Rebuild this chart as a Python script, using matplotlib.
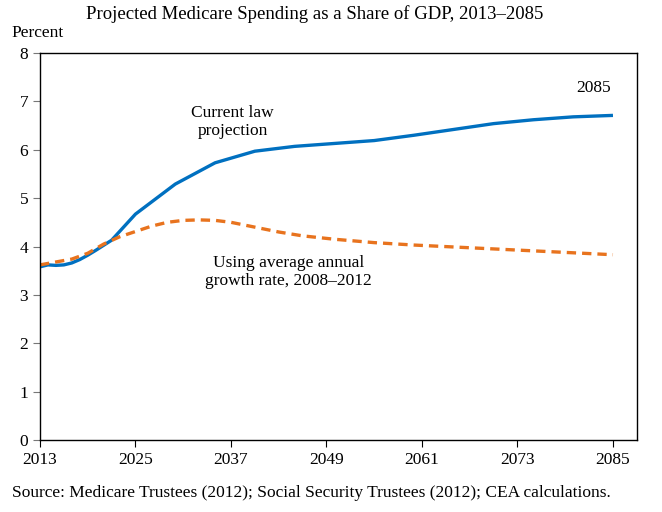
import matplotlib.pyplot as plt

plt.rcParams["font.family"] = ["Liberation Serif", "DejaVu Serif"]

# Current law projection (percent of GDP)
law_years = [2013, 2014, 2015, 2016, 2017, 2018, 2019, 2020, 2022, 2025,
             2030, 2035, 2040, 2045, 2050, 2055, 2060, 2065, 2070, 2075,
             2080, 2085]
law_values = [3.58, 3.62, 3.61, 3.62, 3.66, 3.73, 3.82, 3.92, 4.13, 4.67,
              5.29, 5.73, 5.97, 6.07, 6.13, 6.19, 6.30, 6.42, 6.54, 6.62,
              6.68, 6.71]

# Using average annual growth rate, 2008-2012
avg_years = [2013, 2015, 2017, 2019, 2021, 2023, 2025, 2027, 2029, 2031,
             2033, 2035, 2037, 2040, 2043, 2046, 2050, 2055, 2060, 2065,
             2070, 2075, 2080, 2085]
avg_values = [3.62, 3.68, 3.74, 3.86, 4.05, 4.20, 4.31, 4.42, 4.50, 4.54,
              4.55, 4.54, 4.50, 4.40, 4.30, 4.22, 4.15, 4.08, 4.03, 3.99,
              3.95, 3.91, 3.87, 3.83]

x_ticks = [2013, 2025, 2037, 2049, 2061, 2073, 2085]
y_ticks = [0, 1, 2, 3, 4, 5, 6, 7, 8]

fig = plt.figure(figsize=(6.62, 5.12), dpi=100)
ax = fig.add_axes([0.0604, 0.1406, 0.9016, 0.7559])

ax.plot(law_years, law_values, color="#0070C0", lw=2.4, solid_capstyle="butt")
ax.plot(avg_years, avg_values, color="#E8731E", lw=2.4, dashes=(2.8, 1.8))

ax.set_xlim(2013, 2088)
ax.set_ylim(0, 8)
ax.set_xticks(x_ticks)
ax.set_yticks(y_ticks)
ax.tick_params(direction="out", length=5, width=0.8, labelsize=12.5, colors="black")
ax.tick_params(axis="y", color="#777777", labelcolor="black")
for s in ax.spines.values():
    s.set_linewidth(1.0)

ax.text(2037.2, 6.58, "Current law\nprojection", ha="center", va="center",
        fontsize=12.5, linespacing=1.15)
ax.text(2082.6, 7.27, "2085", ha="center", va="center", fontsize=12.5)
ax.text(2044.2, 3.47, "Using average annual\ngrowth rate, 2008\u20132012",
        ha="center", va="center", fontsize=12.5, linespacing=1.15)

fig.text(0.476, 0.972, "Projected Medicare Spending as a Share of GDP, 2013\u20132085",
         ha="center", va="center", fontsize=13.5)
fig.text(0.018, 0.935, "Percent", ha="left", va="center", fontsize=12.5)
fig.text(0.018, 0.037, "Source: Medicare Trustees (2012); Social Security Trustees (2012); CEA calculations.",
         ha="left", va="center", fontsize=12.5)

fig.savefig("out.png", dpi=100)
